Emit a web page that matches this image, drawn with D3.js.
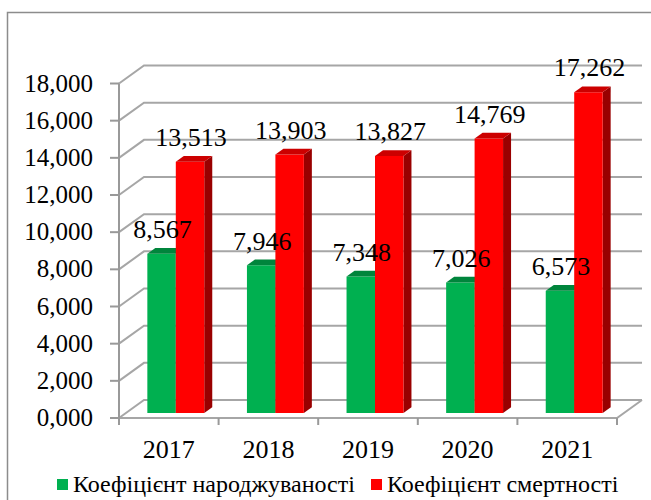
<!DOCTYPE html>
<html>
<head>
<meta charset="utf-8">
<script src="https://cdn.jsdelivr.net/npm/d3@7"></script>
<style>
  body { margin: 0; background: #fff; }
  svg { display: block; }
</style>
</head>
<body>
<svg id="chart" width="651" height="500" font-family="'Liberation Serif', 'Times New Roman', serif"></svg>
<script>
// Values
var years = ["2017", "2018", "2019", "2020", "2021"];
var seriesNames = ["Коефіцієнт народжуваності", "Коефіцієнт смертності"];
var births = [8.567, 7.946, 7.348, 7.026, 6.573];
var deaths = [13.513, 13.903, 13.827, 14.769, 17.262];
var yTicks = [0, 2, 4, 6, 8, 10, 12, 14, 16, 18];

var colors = [
    { front: "#00b050", top: "#00853c", side: "#006e31" },
    { front: "#ff0000", top: "#cc0000", side: "#990000" }
];

var svg = d3.select("#chart"),
    serif = "'Liberation Serif', 'Times New Roman', serif",
    DX = 25,   // depth offset of the back wall
    DY = -18,
    z1 = 0.28, // bar front depth
    z2 = 0.60, // bar back depth
    fmt = function(v) { return d3.format(".3f")(v).replace(".", ","); };

var x0 = d3.scaleBand().domain(years).range([119, 617]),
    x1 = d3.scaleBand().domain([0, 1]).range([0, x0.bandwidth()]).paddingOuter(0.75),
    y = d3.scaleLinear().domain([0, 18]).range([418, 83.5]);

// project a point of the front plane to a given depth
function P(px, py, z) {
    return [px + z * DX, py + z * DY];
}
function poly(pts) {
    return pts.map(function(p) { return p.join(","); }).join(" ");
}

// outer frame
svg.append("rect")
    .attr("x", 7.5).attr("y", 12.5)
    .attr("width", 700).attr("height", 600)
    .attr("fill", "none")
    .attr("stroke", "#8c8c8c")
    .attr("stroke-width", 1.5);

var gridColor = "#a6a6a6";

// back wall gridlines and left wall diagonals
var grid = svg.append("g").attr("fill", "none").attr("stroke", gridColor).attr("stroke-width", 2);
yTicks.forEach(function(t) {
    var a = [119, y(t)],
        b = P(119, y(t), 1),
        c = P(617, y(t), 1);
    grid.append("polyline").attr("points", poly([a, b, c]));
});

// floor
grid.append("polyline")
    .attr("points", poly([[119, y(0)], [617, y(0)], P(617, y(0), 1)]));

// value axis
var axis = svg.append("g").attr("stroke", "#999").attr("stroke-width", 2);
axis.append("line")
    .attr("x1", 119).attr("x2", 119)
    .attr("y1", y(18)).attr("y2", y(0) + 7);
yTicks.forEach(function(t) {
    axis.append("line")
        .attr("x1", 110).attr("x2", 119)
        .attr("y1", y(t)).attr("y2", y(t));
});
// category ticks
x0.domain().concat(["end"]).forEach(function(d, i) {
    var xx = i < years.length ? x0(d) : x0.range()[1];
    axis.append("line")
        .attr("x1", xx).attr("x2", xx)
        .attr("y1", y(0)).attr("y2", y(0) + 7);
});

svg.append("g").selectAll("text")
    .data(yTicks)
    .enter()
    .append("text")
    .attr("x", 93)
    .attr("y", function(d) { return y(d) + 8; })
    .attr("text-anchor", "end")
    .style("font-family", serif)
    .style("font-size", "25px")
    .text(fmt);

svg.append("g").selectAll("text")
    .data(years)
    .enter()
    .append("text")
    .attr("x", function(d) { return x0(d) + x0.bandwidth() / 2; })
    .attr("y", 458)
    .attr("text-anchor", "middle")
    .style("font-family", serif)
    .style("font-size", "26px")
    .text(function(d) { return d; });

// bars
var bars = [];
years.forEach(function(yr, i) {
    [births[i], deaths[i]].forEach(function(v, s) {
        bars.push({ year: yr, s: s, v: v });
    });
});

var barG = svg.append("g");
bars.forEach(function(d) {
    var xl = x0(d.year) + x1(d.s),
        xr = xl + x1.bandwidth(),
        yb = y(0),
        yt = y(d.v),
        c = colors[d.s];
    // right side
    barG.append("polygon")
        .attr("points", poly([P(xr, yt, z1), P(xr, yt, z2), P(xr, yb, z2), P(xr, yb, z1)]))
        .attr("fill", c.side);
    // front
    barG.append("polygon")
        .attr("points", poly([P(xl, yt, z1), P(xr, yt, z1), P(xr, yb, z1), P(xl, yb, z1)]))
        .attr("fill", c.front);
    // top
    barG.append("polygon")
        .attr("points", poly([P(xl, yt, z1), P(xr, yt, z1), P(xr, yt, z2), P(xl, yt, z2)]))
        .attr("fill", c.top);
});

// data labels
svg.append("g").selectAll("text")
    .data(bars)
    .enter()
    .append("text")
    .attr("x", function(d) {
        return P(x0(d.year) + x1(d.s) + x1.bandwidth() / 2, 0, z1)[0] + 1;
    })
    .attr("y", function(d) { return P(0, y(d.v), z2)[1] - 10; })
    .attr("text-anchor", "middle")
    .style("font-family", serif)
    .style("font-size", "26px")
    .text(function(d) { return fmt(d.v); });

// legend
var legend = svg.append("g");
var legendX = [57, 371];
seriesNames.forEach(function(name, i) {
    legend.append("rect")
        .attr("x", legendX[i]).attr("y", 479)
        .attr("width", 11).attr("height", 11)
        .attr("fill", colors[i].front);
    legend.append("text")
        .attr("x", legendX[i] + 16)
        .attr("y", 492)
        .style("font-family", serif)
        .style("font-size", "24px")
        .text(name);
});
</script>
</body>
</html>
